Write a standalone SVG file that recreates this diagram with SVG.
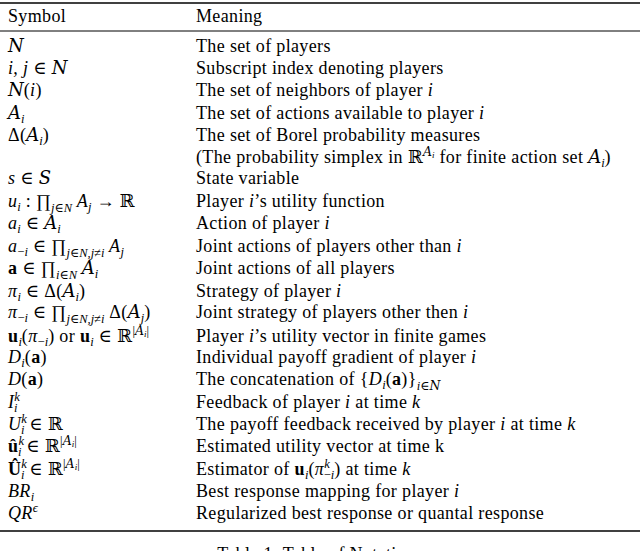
<svg xmlns="http://www.w3.org/2000/svg" width="640" height="551" viewBox="0 0 640 551">
<style>
text{font-family:"Liberation Serif","DejaVu Serif",serif;font-size:18px;letter-spacing:0.35px;fill:#000}
.i{font-style:italic}
.b{font-weight:bold}
.s{font-size:12.5px;letter-spacing:0}
.c{font-family:"DejaVu Serif",serif;font-style:italic;letter-spacing:0}
</style>
<rect width="640" height="551" fill="#fff"/>
<g id="rules" stroke="#000">
<line x1="0" y1="3" x2="640" y2="3" stroke-width="1.6"/>
<line x1="0" y1="31" x2="640" y2="31" stroke-width="1"/>
<line x1="0" y1="531" x2="640" y2="531" stroke-width="1.6"/>
</g>
<g id="header"><text x="8" y="22">Symbol</text><text x="196" y="22">Meaning</text></g>
<g id="symbols">
<text x="8" y="52"><tspan class="c">N</tspan></text>
<text x="8" y="74"><tspan class="i">i, j</tspan> ∈ <tspan class="c">N</tspan></text>
<text x="8" y="96"><tspan class="c">N</tspan>(<tspan class="i">i</tspan>)</text>
<text x="8" y="119"><tspan class="c">A</tspan><tspan class="s i" dy="4">i</tspan></text>
<text x="8" y="141">Δ(<tspan class="c">A</tspan><tspan class="s i" dy="4">i</tspan><tspan dy="-4">)</tspan></text>
<text x="8" y="184"><tspan class="i">s</tspan> ∈ <tspan class="c">S</tspan></text>
<text x="8" y="207"><tspan class="i">u</tspan><tspan class="s i" dy="4">i</tspan><tspan dy="-4"> : ∏</tspan><tspan class="s i" dy="5">j</tspan><tspan class="s">∈</tspan><tspan class="s i">N</tspan><tspan class="i" dy="-5"> A</tspan><tspan class="s i" dy="4">j</tspan><tspan dy="-4"> → ℝ</tspan></text>
<text x="8" y="229"><tspan class="i">a</tspan><tspan class="s i" dy="4">i</tspan><tspan dy="-4"> ∈ </tspan><tspan class="c">A</tspan><tspan class="s i" dy="4">i</tspan></text>
<text x="8" y="252"><tspan class="i">a</tspan><tspan class="s" dy="4">−</tspan><tspan class="s i">i</tspan><tspan dy="-4"> ∈ ∏</tspan><tspan class="s i" dy="5">j</tspan><tspan class="s">∈</tspan><tspan class="s i">N,j</tspan><tspan class="s">≠</tspan><tspan class="s i">i</tspan><tspan class="i" dy="-5"> A</tspan><tspan class="s i" dy="4">j</tspan></text>
<text x="8" y="274"><tspan class="b">a</tspan> ∈ ∏<tspan class="s i" dy="5">i</tspan><tspan class="s">∈</tspan><tspan class="s i">N</tspan><tspan dy="-5"> </tspan><tspan class="c">A</tspan><tspan class="s i" dy="4">i</tspan></text>
<text x="8" y="297"><tspan class="i">π</tspan><tspan class="s i" dy="4">i</tspan><tspan dy="-4"> ∈ Δ(</tspan><tspan class="c">A</tspan><tspan class="s i" dy="4">i</tspan><tspan dy="-4">)</tspan></text>
<text x="8" y="318"><tspan class="i">π</tspan><tspan class="s" dy="4">−</tspan><tspan class="s i">i</tspan><tspan dy="-4"> ∈ ∏</tspan><tspan class="s i" dy="5">j</tspan><tspan class="s">∈</tspan><tspan class="s i">N,j</tspan><tspan class="s">≠</tspan><tspan class="s i">i</tspan><tspan dy="-5"> Δ(</tspan><tspan class="c">A</tspan><tspan class="s i" dy="4">j</tspan><tspan dy="-4">)</tspan></text>
<text x="8" y="342"><tspan class="b">u</tspan><tspan class="s i" dy="4">i</tspan><tspan dy="-4">(</tspan><tspan class="i">π</tspan><tspan class="s" dy="4">−</tspan><tspan class="s i">i</tspan><tspan dy="-4">) or </tspan><tspan class="b">u</tspan><tspan class="s i" dy="4">i</tspan><tspan dy="-4"> ∈ ℝ</tspan><tspan class="s" dy="-7">|</tspan><tspan class="s c">A</tspan><tspan class="s i" style="font-size:9px" dy="2">i</tspan><tspan class="s" dy="-2">|</tspan></text>
<text x="8" y="363"><tspan class="i">D</tspan><tspan class="s i" dy="4">i</tspan><tspan dy="-4">(</tspan><tspan class="b">a</tspan>)</text>
<text x="8" y="385"><tspan class="i">D</tspan>(<tspan class="b">a</tspan>)</text>
<text x="8" y="408"><tspan class="i">I</tspan><tspan class="s i" dy="-7">k</tspan><tspan class="s i" dx="-6" dy="11">i</tspan></text>
<text x="8" y="430"><tspan class="i">U</tspan><tspan class="s i" dy="-7">k</tspan><tspan class="s i" dx="-6" dy="11">i</tspan><tspan dy="-4"> ∈ ℝ</tspan></text>
<text x="8" y="452"><tspan class="b">û</tspan><tspan class="s i" dy="-7">k</tspan><tspan class="s i" dx="-6" dy="11">i</tspan><tspan dy="-4"> ∈ ℝ</tspan><tspan class="s" dy="-7">|</tspan><tspan class="s c">A</tspan><tspan class="s i" style="font-size:9px" dy="2">i</tspan><tspan class="s" dy="-2">|</tspan></text>
<text x="8" y="475"><tspan class="b">Û</tspan><tspan class="s i" dy="-7">k</tspan><tspan class="s i" dx="-6" dy="11">i</tspan><tspan dy="-4"> ∈ ℝ</tspan><tspan class="s" dy="-7">|</tspan><tspan class="s c">A</tspan><tspan class="s i" style="font-size:9px" dy="2">i</tspan><tspan class="s" dy="-2">|</tspan></text>
<text x="8" y="497"><tspan class="i">BR</tspan><tspan class="s i" dy="4">i</tspan></text>
<text x="8" y="519"><tspan class="i">QR</tspan><tspan class="s i" dy="-7">ϵ</tspan></text>
</g>
<g id="meanings">
<text x="196" y="52">The set of players</text>
<text x="196" y="74">Subscript index denoting players</text>
<text x="196" y="96">The set of neighbors of player <tspan class="i">i</tspan></text>
<text x="196" y="119">The set of actions available to player <tspan class="i">i</tspan></text>
<text x="196" y="141">The set of Borel probability measures</text>
<text x="196" y="163">(The probability simplex in ℝ<tspan class="s c" dy="-7">A</tspan><tspan class="s i" style="font-size:9px" dy="2">i</tspan><tspan dy="5"> for finite action set </tspan><tspan class="c">A</tspan><tspan class="s i" dy="4">i</tspan><tspan dy="-4">)</tspan></text>
<text x="196" y="184">State variable</text>
<text x="196" y="207">Player <tspan class="i">i</tspan>’s utility function</text>
<text x="196" y="229">Action of player <tspan class="i">i</tspan></text>
<text x="196" y="252">Joint actions of players other than <tspan class="i">i</tspan></text>
<text x="196" y="274">Joint actions of all players</text>
<text x="196" y="297">Strategy of player <tspan class="i">i</tspan></text>
<text x="196" y="318">Joint strategy of players other then <tspan class="i">i</tspan></text>
<text x="196" y="342">Player <tspan class="i">i</tspan>’s utility vector in finite games</text>
<text x="196" y="363">Individual payoff gradient of player <tspan class="i">i</tspan></text>
<text x="196" y="385">The concatenation of {<tspan class="i">D</tspan><tspan class="s i" dy="4">i</tspan><tspan dy="-4">(</tspan><tspan class="b">a</tspan>)}<tspan class="s i" dy="5">i</tspan><tspan class="s">∈</tspan><tspan class="s c">N</tspan></text>
<text x="196" y="408">Feedback of player <tspan class="i">i</tspan> at time <tspan class="i">k</tspan></text>
<text x="196" y="430">The payoff feedback received by player <tspan class="i">i</tspan> at time <tspan class="i">k</tspan></text>
<text x="196" y="452">Estimated utility vector at time k</text>
<text x="196" y="475">Estimator of <tspan class="b">u</tspan><tspan class="s i" dy="4">i</tspan><tspan dy="-4">(</tspan><tspan class="i">π</tspan><tspan class="s i" dy="-7">k</tspan><tspan class="s" dx="-6" dy="11">−</tspan><tspan class="s i">i</tspan><tspan dy="-4">) at time </tspan><tspan class="i">k</tspan></text>
<text x="196" y="497">Best response mapping for player <tspan class="i">i</tspan></text>
<text x="196" y="519">Regularized best response or quantal response</text>
</g>
<g id="caption"><text x="320" y="560" text-anchor="middle">Table 1: Table of Notations</text></g>
</svg>
